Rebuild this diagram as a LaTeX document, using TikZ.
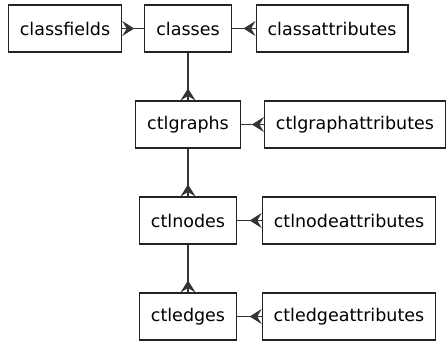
\documentclass[tikz,border=0pt]{standalone}
\usepackage{fontspec}
\setmainfont{DejaVu Sans}
\usetikzlibrary{arrows.meta}
\definecolor{EdgeGray}{RGB}{51,51,51}
\definecolor{BoxBorder}{RGB}{34,34,34}

\begin{document}
\begin{tikzpicture}[
      x=1pt,y=-1pt,
      tblBox/.style={draw=BoxBorder,fill=white,line width=1.1pt,
                     minimum height=47pt,inner xsep=11.5pt,
                     font=\fontsize{17.5}{20}\selectfont},
      manyRel/.style={-{Stealth[reversed,length=12pt,width=15pt,inset=4.5pt,line width=0.8pt]},
                      line width=1.3pt,EdgeGray,
                      postaction={draw,-,line width=1.3pt,EdgeGray}}
    ]
    \useasboundingbox (0,0) rectangle (446,341);

    % Row 1: classes and its side tables
    \node(classes)[tblBox] at (188, 28.5) {classes};
    \node(classfields)[tblBox] at (65, 28.5) {classfields};
    \node(classattrs)[tblBox] at (332, 28.5) {classattributes};

    % Row 2: ctlgraphs
    \node(ctlgraphs)[tblBox] at (188, 124.5) {ctlgraphs};
    \node(ctlgraphattrs)[tblBox] at (355, 124.5) {ctlgraphattributes};

    % Row 3: ctlnodes
    \node(ctlnodes)[tblBox] at (188, 220.5) {ctlnodes};
    \node(ctlnodeattrs)[tblBox] at (349, 220.5) {ctlnodeattributes};

    % Row 4: ctledges
    \node(ctledges)[tblBox] at (188, 316.5) {ctledges};
    \node(ctledgeattrs)[tblBox] at (349, 316.5) {ctledgeattributes};

    % One-to-many links (crow's foot on the many side)
    \draw[manyRel] (classes) -- (classfields);
    \draw[manyRel] (classes) -- (classattrs);
    \draw[manyRel] (classes) -- (ctlgraphs);
    \draw[manyRel] (ctlgraphs) -- (ctlgraphattrs);
    \draw[manyRel] (ctlgraphs) -- (ctlnodes);
    \draw[manyRel] (ctlnodes) -- (ctlnodeattrs);
    \draw[manyRel] (ctlnodes) -- (ctledges);
    \draw[manyRel] (ctledges) -- (ctledgeattrs);
  \end{tikzpicture}
\end{document}
